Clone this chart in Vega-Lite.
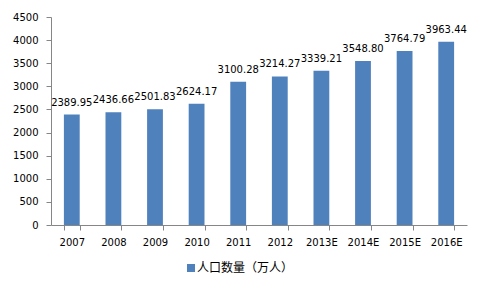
{
  "$schema": "https://vega.github.io/schema/vega-lite/v6.json",
  "autosize": {"type": "none"},
  "width": 416,
  "height": 208,
  "padding": {"left": 51, "top": 17, "right": 18, "bottom": 68},
  "background": "white",
  "config": {
    "view": {"stroke": null},
    "font": "DejaVu Sans"
  },
  "data": {
    "values": [
      {"year": "2007", "value": 2389.95, "series": "人口数量（万人）"},
      {"year": "2008", "value": 2436.66, "series": "人口数量（万人）"},
      {"year": "2009", "value": 2501.83, "series": "人口数量（万人）"},
      {"year": "2010", "value": 2624.17, "series": "人口数量（万人）"},
      {"year": "2011", "value": 3100.28, "series": "人口数量（万人）"},
      {"year": "2012", "value": 3214.27, "series": "人口数量（万人）"},
      {"year": "2013E", "value": 3339.21, "series": "人口数量（万人）"},
      {"year": "2014E", "value": 3548.80, "series": "人口数量（万人）"},
      {"year": "2015E", "value": 3764.79, "series": "人口数量（万人）"},
      {"year": "2016E", "value": 3963.44, "series": "人口数量（万人）"}
    ]
  },
  "encoding": {
    "x": {
      "field": "year",
      "type": "nominal",
      "sort": null,
      "scale": {"paddingInner": 0.62, "paddingOuter": 0.31},
      "axis": {
        "title": null,
        "labelAngle": 0,
        "labelFont": "DejaVu Sans",
        "labelFontSize": 10,
        "labelColor": "#000000",
        "labelPadding": 7,
        "domainColor": "#868686",
        "tickColor": "#868686",
        "tickSize": 5,
        "tickBand": "extent",
        "grid": false
      }
    },
    "y": {
      "field": "value",
      "type": "quantitative",
      "scale": {"domain": [0, 4500], "nice": false},
      "axis": {
        "title": null,
        "values": [0, 500, 1000, 1500, 2000, 2500, 3000, 3500, 4000, 4500],
        "format": "d",
        "labelFont": "DejaVu Sans",
        "labelFontSize": 10,
        "labelColor": "#000000",
        "labelPadding": 8,
        "domainColor": "#868686",
        "tickColor": "#868686",
        "tickSize": 5,
        "grid": false
      }
    }
  },
  "layer": [
    {
      "mark": {"type": "bar"},
      "encoding": {
        "color": {
          "field": "series",
          "type": "nominal",
          "scale": {"range": ["#4F81BD"]},
          "legend": {
            "title": null,
            "orient": "none",
            "legendX": 134,
            "legendY": 245,
            "symbolType": "square",
            "symbolSize": 64,
            "symbolStrokeWidth": 0,
            "labelFont": "Noto Sans CJK SC",
            "labelFontSize": 12,
            "labelColor": "#000000",
            "labelOffset": 0
          }
        }
      }
    },
    {
      "mark": {"type": "text", "baseline": "alphabetic", "dy": -9, "font": "DejaVu Sans", "fontSize": 10, "color": "#000000"},
      "encoding": {
        "text": {"field": "value", "type": "quantitative", "format": ".2f"}
      }
    }
  ]
}
